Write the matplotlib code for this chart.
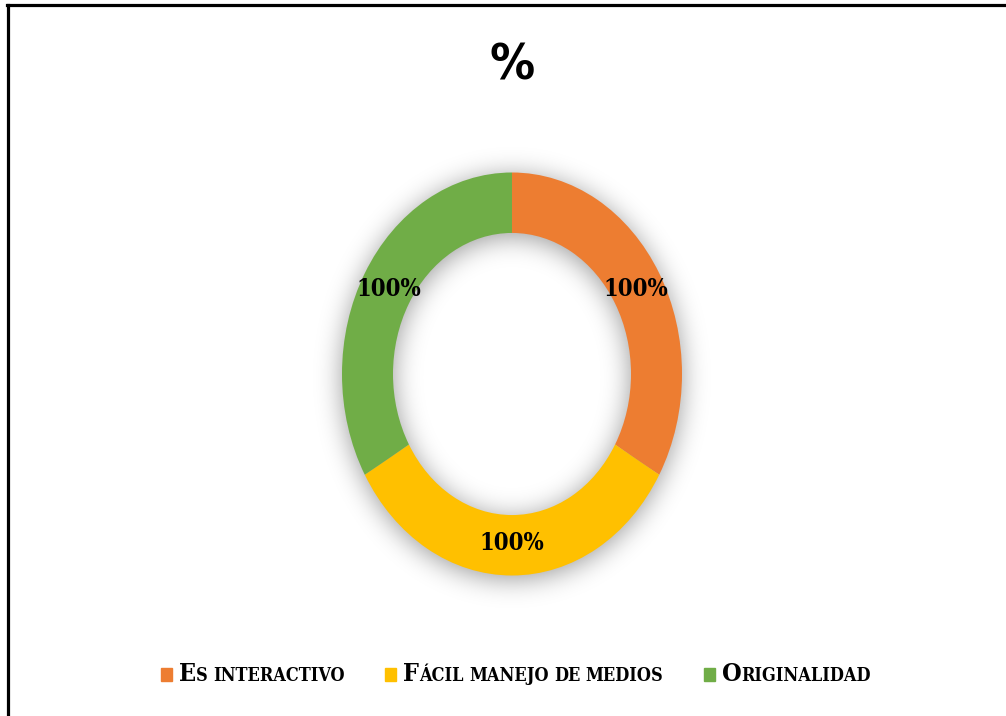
import numpy as np
import matplotlib
matplotlib.use("Agg")
import matplotlib.pyplot as plt
from matplotlib.patches import Rectangle
from matplotlib.lines import Line2D

# data
categories = ["Es interactivo", "Fácil manejo de medios", "Originalidad"]
values = [100, 100, 100]
colors = ["#ED7D31", "#FFC000", "#70AD47"]
title = "%"

W, H = 1006, 716
fig = plt.figure(figsize=(W / 100, H / 100), dpi=100)
fig.patch.set_facecolor("white")

SERIF = dict(family="DejaVu Serif", fontweight="bold", fontstretch="condensed")

# ring geometry in pixels (centre, half-width, half-height)
cx, cy = 512, 374
sx, sy = 170, 201.5
xr, yr = 1.5, 1.35
ax = fig.add_axes([(cx - xr * sx) / W, (H - cy - yr * sy) / H,
                   2 * xr * sx / W, 2 * yr * sy / H])

wedges, texts, autotexts = ax.pie(
    values, colors=colors, startangle=90, counterclock=False, radius=1,
    wedgeprops=dict(width=0.3, edgecolor="none"),
    autopct=lambda p: "", pctdistance=0.84)
for t, v in zip(autotexts, values):
    t.set_text(f"{v}%")
    t.set(fontsize=17, color="black", **SERIF)

# soft shadow behind the ring
nx, ny = int(2 * xr * sx), int(2 * yr * sy)
xs = np.linspace(-xr, xr, nx)
ys = np.linspace(-yr, yr, ny)
X, Y = np.meshgrid(xs, ys)
off = 4 / sy
R = np.sqrt(X ** 2 + (Y + off) ** 2)
mask = ((R <= 1.0) & (R >= 0.7)).astype(float)
sig = 13
k = np.arange(-3 * sig, 3 * sig + 1)
kern = np.exp(-k ** 2 / (2 * sig ** 2))
kern /= kern.sum()
blur = np.apply_along_axis(lambda r: np.convolve(r, kern, mode="same"), 1, mask)
blur = np.apply_along_axis(lambda c: np.convolve(c, kern, mode="same"), 0, blur)
shadow = np.zeros((ny, nx, 4))
shadow[..., 3] = blur * 0.4
ax.imshow(shadow, extent=(-xr, xr, -yr, yr), origin="lower", zorder=0,
          interpolation="bilinear")

ax.set_xlim(-xr, xr)
ax.set_ylim(-yr, yr)
ax.set_aspect("auto")
ax.axis("off")

fig.text(cx / W, 1 - 66 / H, title, ha="center", va="center", fontsize=36,
         fontweight="bold", family="DejaVu Sans", fontstretch="condensed")

renderer = fig.canvas.get_renderer()


def small_caps(x, y, s, big, small, draw=True):
    # capitals at full size, lower case as smaller capitals
    space = small * 100 / 72 * 0.3
    for wi, word in enumerate(s.split(" ")):
        if wi:
            x += space
        runs = []
        for ch in word:
            up = ch.isupper()
            if runs and runs[-1][1] == up:
                runs[-1][0] += ch
            else:
                runs.append([ch, up])
        for run, up in runs:
            t = fig.text(x / W, 1 - y / H, run.upper(), fontsize=big if up else small,
                         va="baseline", ha="left", **SERIF)
            x += t.get_window_extent(renderer).width
            if not draw:
                t.remove()
    return x


big, small = 18, 13
sq, gap, sep = 11, 7, 40
base = 681
widths = [small_caps(0, base, c, big, small, draw=False) for c in categories]
total = sum(sq + gap + w for w in widths) + sep * (len(categories) - 1)
x = 516 - total / 2
for c, col in zip(categories, colors):
    fig.add_artist(Rectangle((x / W, 1 - 681 / H), sq / W, 13 / H,
                             transform=fig.transFigure, color=col))
    x = small_caps(x + sq + gap, base, c, big, small) + sep

# frame lines along the top and left edge
fig.add_artist(Line2D([7 / W, 1], [1 - 5 / H, 1 - 5 / H], transform=fig.transFigure,
                      color="black", lw=2.3))
fig.add_artist(Line2D([8 / W, 8 / W], [0, 1 - 5 / H], transform=fig.transFigure,
                      color="black", lw=2.3))

fig.savefig("out.png", dpi=100)
